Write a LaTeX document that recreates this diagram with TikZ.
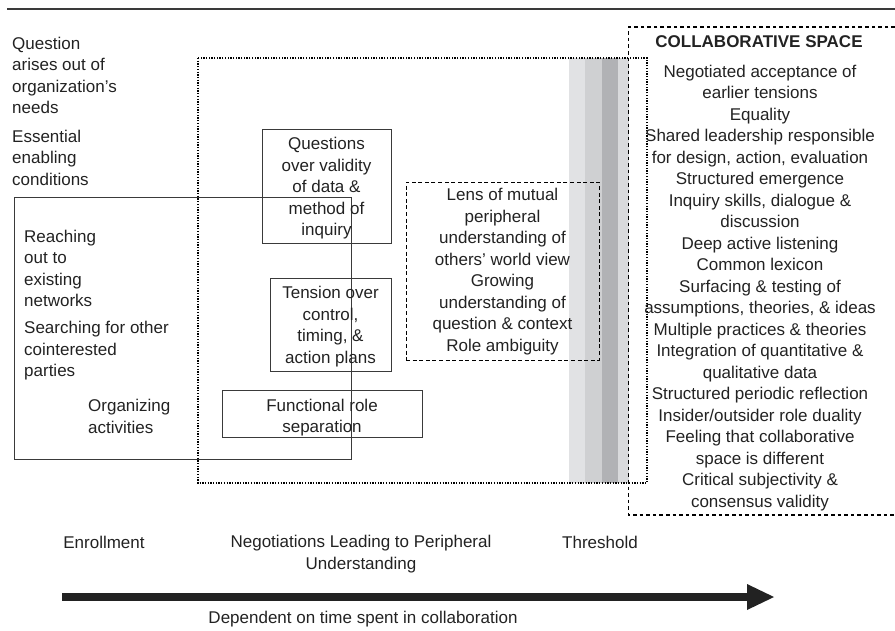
\documentclass[tikz,border=0pt]{standalone}
\usepackage{fontspec}
\setmainfont{Liberation Sans}
\definecolor{bandA}{HTML}{E1E2E4}
\definecolor{bandB}{HTML}{CFD0D2}
\definecolor{bandC}{HTML}{B1B2B5}
\definecolor{bandD}{HTML}{D9DADC}
\definecolor{ink}{HTML}{222222}
\definecolor{edge}{HTML}{3A3A3A}
\begin{document}
\begin{tikzpicture}[x=1pt,y=-1pt,
  txt/.style={font=\fontsize{17}{21.5}\selectfont, inner sep=0pt, text=ink},
  ltxt/.style={txt, align=left, anchor=west},
  ctxt/.style={txt, align=center, anchor=center},
  solidbox/.style={draw=edge, line width=1pt, inner sep=0pt, fill=none},
  dotbox/.style={draw=black, line width=1.3pt, dash pattern=on 1.3pt off 1.4pt},
  collabline/.style={draw=black, line width=1.8pt, dash pattern=on 3.6pt off 3pt},
  lensbox/.style={draw=black, line width=0.9pt, dash pattern=on 4pt off 2.6pt, inner sep=0pt}
]
\useasboundingbox (0,0) rectangle (895,630);

% top rule
\draw[line width=1.2pt, edge] (7,9) -- (895,9);

% threshold bands
\fill[bandA] (569,58) rectangle (585,483);
\fill[bandB] (585,58) rectangle (602,483);
\fill[bandC] (602,58) rectangle (618,483);
\fill[bandD] (618,58) rectangle (629,483);

% enrollment box
\node[solidbox, minimum width=337pt, minimum height=262pt] (enrol) at (182.5,328) {};
% negotiation dotted box
\draw[dotbox] (198,58) rectangle (647,483);
% collaborative dashed box (open on right)
\draw[collabline] (895,27) -- (628.5,27) -- (628.5,515) -- (895,515);

% inner boxes
\node[solidbox, minimum width=129pt, minimum height=114pt] (qbox) at (326.5,186) {};
\node[solidbox, minimum width=121pt, minimum height=93pt] (tbox) at (330.5,324.5) {};
\node[solidbox, minimum width=200pt, minimum height=47pt] (fbox) at (322,413.5) {};
\node[lensbox, minimum width=193pt, minimum height=178pt] (lbox) at (502.5,271) {};

% left texts
\node[ltxt] (t1) at (12,75.5) {Question\\arises out of\\organization’s\\needs};
\node[ltxt] (t2) at (12,157.5) {Essential\\enabling\\conditions};
\node[ltxt] (t3) at (24,268.5) {Reaching\\out to\\existing\\networks};
\node[ltxt] (t4) at (24,351) {Searching for other\\cointerested\\parties};
\node[ltxt] (t5) at (88,416.5) {Organizing\\activities};

% box texts
\node[ctxt] (q) at (326.5,188.5) {Questions\\over validity\\of data \&\\method of\\inquiry};
\node[ctxt] (t) at (330.5,326.5) {Tension over\\control,\\timing, \&\\action plans};
\node[ctxt] (f) at (322,417.5) {Functional role\\separation};
\node[ctxt] (l) at (502.5,271.5) {Lens of mutual\\peripheral\\understanding of\\others’ world view\\Growing\\understanding of\\question \& context\\Role ambiguity};

% collaborative space
\node[txt, font=\fontsize{17}{21.5}\selectfont\bfseries] (ct) at (759,42) {COLLABORATIVE SPACE};
\node[ctxt] (c) at (760,288) {Negotiated acceptance of\\earlier tensions\\Equality\\Shared leadership responsible\\for design, action, evaluation\\Structured emergence\\Inquiry skills, dialogue \&\\discussion\\Deep active listening\\Common lexicon\\Surfacing \& testing of\\assumptions, theories, \& ideas\\Multiple practices \& theories\\Integration of quantitative \&\\qualitative data\\Structured periodic reflection\\Insider/outsider role duality\\Feeling that collaborative\\space is different\\Critical subjectivity \&\\consensus validity};

% stage labels
\node[ctxt] (s1) at (104,542) {Enrollment};
\node[ctxt] (s2) at (361,554) {Negotiations Leading to Peripheral\\Understanding};
\node[ctxt] (s3) at (600,542) {Threshold};

% time arrow
\coordinate (a0) at (62,597);
\coordinate (a1) at (747,597);
\fill[ink] (62,593) rectangle (747.5,601);
\fill[ink] (747,584) -- (774,597) -- (747,610) -- cycle;
\node[ctxt] (d) at (363,619) {Dependent on time spent in collaboration};
\end{tikzpicture}
\end{document}
